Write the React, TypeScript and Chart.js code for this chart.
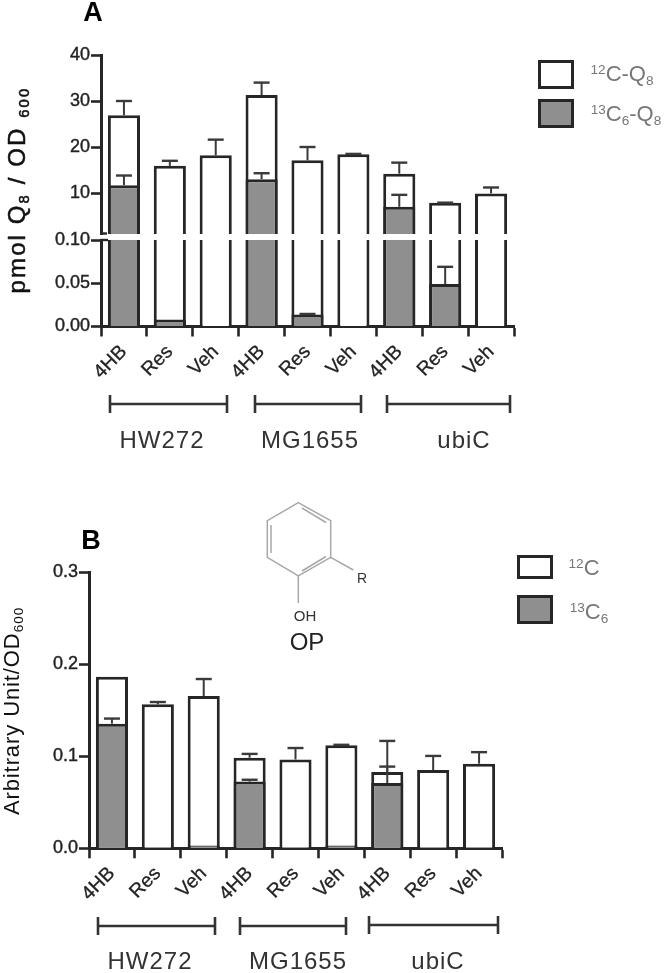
import React, { useEffect, useRef } from "react";
import { Chart, registerables } from "chart.js";

Chart.register(...registerables);

const categories = ["4HB", "Res", "Veh", "4HB", "Res", "Veh", "4HB", "Res", "Veh"];
const groups = ["HW272", "MG1655", "ubiC"];

// Panel A
const aTotal = [26.9, 15.9, 18.2, 31.3, 17.1, 18.4, 14.2, 7.9, 9.9];
const aTotalErr = [30.0, 17.0, 21.6, 34.0, 20.0, 18.5, 16.6, 7.9, 11.2];
const a13C = [11.7, 0.008, 0, 13.0, 0.014, 0, 7.0, 0.049, 0];
const a13CErr = [13.8, null, null, 14.3, 0.0145, null, 9.6, 0.069, null];

// Panel B
const bTotal = [0.1865, 0.1565, 0.1655, 0.0985, 0.0965, 0.112, 0.083, 0.085, 0.092];
const bTotalErr = [null, 0.159, 0.184, 0.1026, 0.109, 0.1125, 0.1167, 0.1004, 0.1045];
const b13C = [0.1355, 0, 0.003, 0.0725, 0, 0.003, 0.071, 0, 0];
const b13CErr = [0.141, null, null, 0.0745, null, null, 0.0888, null, null];

const INK = "#262626";
const GREY = "#8f8f8f";
const FONT = "'Liberation Sans', Arial, sans-serif";

function errorPlugin(series: (number | null)[][]) {
  return {
    id: "errors",
    afterDatasetsDraw(chart: any) {
      const { ctx, chartArea, scales } = chart;
      const y = scales.y;
      const x = scales.x;
      ctx.save();
      ctx.strokeStyle = "#3a3a3a";
      for (let s = 0; s < series.length; s += 2) {
        const tops = series[s];
        const vals = series[s + 1];
        tops.forEach((top, i) => {
          if (top === null || top === undefined) return;
          if (top < y.min || top > y.max) return;
          const px = x.getPixelForValue(i);
          const py = y.getPixelForValue(top);
          const base = Math.min(y.getPixelForValue(vals[i] as number), chartArea.bottom);
          ctx.lineWidth = 2;
          ctx.beginPath();
          ctx.moveTo(px, py);
          ctx.lineTo(px, base);
          ctx.stroke();
          ctx.lineWidth = 2.4;
          ctx.beginPath();
          ctx.moveTo(px - 8, py);
          ctx.lineTo(px + 8, py);
          ctx.stroke();
        });
      }
      ctx.restore();
    },
  };
}

function makeConfig(opts: {
  total: number[];
  c13: number[];
  errors: (number | null)[][];
  yMin: number;
  yMax: number;
  step: number;
  digits: number;
  yWidth: number;
  padding: any;
  showX: boolean;
  clip: any;
}) {
  const keep = (v: number) => (v >= opts.yMin ? v : null);
  return {
    type: "bar",
    data: {
      labels: categories,
      datasets: [
        {
          label: "13C",
          data: opts.c13.map(keep),
          backgroundColor: GREY,
          borderColor: INK,
          borderWidth: 3,
          borderSkipped: "bottom",
          clip: opts.clip,
        },
        {
          label: "12C",
          data: opts.total.map(keep),
          backgroundColor: "#ffffff",
          borderColor: INK,
          borderWidth: 3,
          borderSkipped: "bottom",
          clip: opts.clip,
        },
      ],
    },
    options: {
      animation: false,
      responsive: false,
      maintainAspectRatio: false,
      layout: { padding: opts.padding },
      plugins: { legend: { display: false }, tooltip: { enabled: false }, title: { display: false } },
      datasets: { bar: { grouped: false, barPercentage: 0.7, categoryPercentage: 1 } },
      scales: {
        x: {
          display: opts.showX,
          type: "category",
          offset: true,
          afterFit: (s: any) => {
            s.height = opts.showX ? 50 : 0;
          },
          grid: { display: true, drawOnChartArea: false, tickLength: 10, tickWidth: 2.6, tickColor: INK },
          border: { display: true, color: INK, width: 3 },
          ticks: {
            autoSkip: false,
            minRotation: 45,
            maxRotation: 45,
            padding: 4,
            color: "#222",
            textStrokeColor: "#222",
            textStrokeWidth: 0.3,
            font: { family: FONT, size: 19.5 },
          },
        },
        y: {
          min: opts.yMin,
          max: opts.yMax,
          afterFit: (s: any) => {
            s.width = opts.yWidth;
          },
          grid: { display: true, drawOnChartArea: false, tickLength: 10, tickWidth: 2.6, tickColor: INK },
          border: { display: true, color: INK, width: 3 },
          ticks: {
            stepSize: opts.step,
            includeBounds: false,
            padding: 1,
            color: "#222",
            textStrokeColor: "#222",
            textStrokeWidth: 0.4,
            font: { family: FONT, size: 18 },
            callback: (v: any) => Number(v).toFixed(opts.digits),
          },
        },
      },
    },
    plugins: [errorPlugin(opts.errors)],
  };
}

function ChartCanvas({ top, height, config }: { top: number; height: number; config: any }) {
  const ref = useRef<HTMLCanvasElement | null>(null);
  useEffect(() => {
    const c = new Chart(ref.current as any, config);
    return () => c.destroy();
  }, []);
  return (
    <canvas
      ref={ref}
      width={667}
      height={height}
      style={{ position: "absolute", left: 0, top, width: 667, height }}
    />
  );
}

const txt = (
  left: number,
  top: number,
  size: number,
  color: string,
  extra: React.CSSProperties = {}
): React.CSSProperties => ({
  position: "absolute",
  left,
  top,
  fontSize: size,
  color,
  fontFamily: FONT,
  whiteSpace: "nowrap",
  lineHeight: 1,
  transform: "translate(-50%,-50%)",
  ...extra,
});

const small: React.CSSProperties = { fontSize: "0.62em", lineHeight: 0 };
const Sup = ({ c }: { c: string }) => <sup style={{ ...small, verticalAlign: "0.55em" }}>{c}</sup>;
const Sub = ({ c }: { c: string }) => <sub style={{ ...small, verticalAlign: "-0.3em" }}>{c}</sub>;

const box = (left: number, top: number, w: number, h: number, fill: string): React.CSSProperties => ({
  position: "absolute",
  left,
  top,
  width: w,
  height: h,
  boxSizing: "border-box",
  border: `3px solid ${INK}`,
  background: fill,
});

const Bracket = ({ x1, x2, y }: { x1: number; x2: number; y: number }) => (
  <g stroke="#333" strokeWidth={2.6}>
    <line x1={x1} x2={x2} y1={y} y2={y} />
    <line x1={x1} x2={x1} y1={y - 9} y2={y + 9} />
    <line x1={x2} x2={x2} y1={y - 9} y2={y + 9} />
  </g>
);

export default function App() {
  const aTop = makeConfig({
    total: aTotal,
    c13: a13C,
    errors: [aTotalErr, aTotal, a13CErr, a13C],
    yMin: 1.087,
    yMax: 40,
    step: 10,
    digits: 0,
    yWidth: 101,
    padding: { top: 55, bottom: 16, left: 0, right: 153 },
    showX: false,
    clip: { left: 2, right: 2, top: 2, bottom: 0 },
  });
  const aBottom = makeConfig({
    total: aTotal,
    c13: a13C,
    errors: [aTotalErr, aTotal, a13CErr, a13C],
    yMin: 0,
    yMax: 0.1,
    step: 0.05,
    digits: 2,
    yWidth: 101,
    padding: { top: 20, bottom: 83.5, left: 0, right: 153 },
    showX: true,
    clip: { left: 2, right: 2, top: 0, bottom: 2 },
  });
  const b = makeConfig({
    total: bTotal,
    c13: b13C,
    errors: [bTotalErr, bTotal, b13CErr, b13C],
    yMin: 0,
    yMax: 0.3,
    step: 0.1,
    digits: 1,
    yWidth: 89,
    padding: { top: 72.3, bottom: 74.7, left: 0, right: 165 },
    showX: true,
    clip: { left: 2, right: 2, top: 2, bottom: 2 },
  });

  return (
    <div
      style={{
        position: "absolute",
        left: 0,
        top: 0,
        width: 667,
        height: 973,
        overflow: "hidden",
        background: "#fff",
        filter: "blur(0.5px)",
      }}
    >
      <ChartCanvas top={0} height={250} config={aTop} />
      <ChartCanvas top={220} height={240} config={aBottom} />
      <ChartCanvas top={500} height={473} config={b} />

      <svg width={667} height={973} style={{ position: "absolute", left: 0, top: 0 }}>
        {/* axis break caps, panel A */}
        <line x1={100} x2={107} y1={233.5} y2={233.5} stroke={INK} strokeWidth={2.4} />
        <line x1={100} x2={108} y1={240} y2={240} stroke={INK} strokeWidth={2.4} />
        <Bracket x1={110} x2={227} y={404} />
        <Bracket x1={255} x2={361} y={404} />
        <Bracket x1={387} x2={510} y={404} />
        <Bracket x1={98} x2={215} y={926} />
        <Bracket x1={240} x2={346} y={926} />
        <Bracket x1={369} x2={498} y={925} />
        {/* OP structure */}
        <g stroke="#a8a8a8" strokeWidth={1.5} fill="none">
          <polygon points="298.3,502.7 330.7,520.7 330.7,557.3 298.3,576 267.3,557.3 267.3,520.7" />
          <line x1={271} y1={525} x2={271} y2={553} />
          <line x1={302} y1={508} x2={326} y2={522.5} />
          <line x1={302} y1={571} x2={326} y2={556.5} />
          <line x1={330.7} y1={557.3} x2={353.3} y2={570} />
          <line x1={298.3} y1={576} x2={298.3} y2={603} />
        </g>
      </svg>

      <div style={txt(93, 12, 27, "#000", { fontWeight: 700 })}>A</div>
      <div style={txt(91, 540, 27, "#000", { fontWeight: 700 })}>B</div>

      <div style={txt(17, 190, 24, "#111", { letterSpacing: 2.1, transform: "translate(-50%,-50%) rotate(-90deg)", WebkitTextStroke: "0.5px #111" })}>
        pmol Q<Sub c="8" /> / OD <Sub c="600" />
      </div>
      <div style={txt(12, 711, 22, "#111", { letterSpacing: 0.9, transform: "translate(-50%,-50%) rotate(-90deg)" })}>
        Arbitrary Unit/OD<Sub c="600" />
      </div>

      <div style={txt(162, 440, 24, "#333", { letterSpacing: 1 })}>{groups[0]}</div>
      <div style={txt(310, 440, 24, "#333", { letterSpacing: 1 })}>{groups[1]}</div>
      <div style={txt(464, 440, 24, "#333", { letterSpacing: 1 })}>{groups[2]}</div>
      <div style={txt(150, 961, 24, "#333", { letterSpacing: 1 })}>{groups[0]}</div>
      <div style={txt(298, 961, 24, "#333", { letterSpacing: 1 })}>{groups[1]}</div>
      <div style={txt(438, 961, 24, "#333", { letterSpacing: 1 })}>{groups[2]}</div>

      <div style={box(538, 60, 36, 29, "#fff")} />
      <div style={box(538, 99, 36, 29, GREY)} />
      <div style={txt(622, 74, 22, "#777")}>
        <Sup c="12" />C-Q<Sub c="8" />
      </div>
      <div style={txt(626, 114, 22, "#777")}>
        <Sup c="13" />C<Sub c="6" />-Q<Sub c="8" />
      </div>

      <div style={box(517, 555, 36, 24, "#fff")} />
      <div style={box(517, 595, 36, 29, GREY)} />
      <div style={txt(584, 568, 22, "#777")}>
        <Sup c="12" />C
      </div>
      <div style={txt(589, 612, 22, "#777")}>
        <Sup c="13" />C<Sub c="6" />
      </div>

      <div style={txt(362, 578, 14, "#333")}>R</div>
      <div style={txt(305, 615, 15, "#333")}>OH</div>
      <div style={txt(307, 642, 24, "#222")}>OP</div>
    </div>
  );
}
